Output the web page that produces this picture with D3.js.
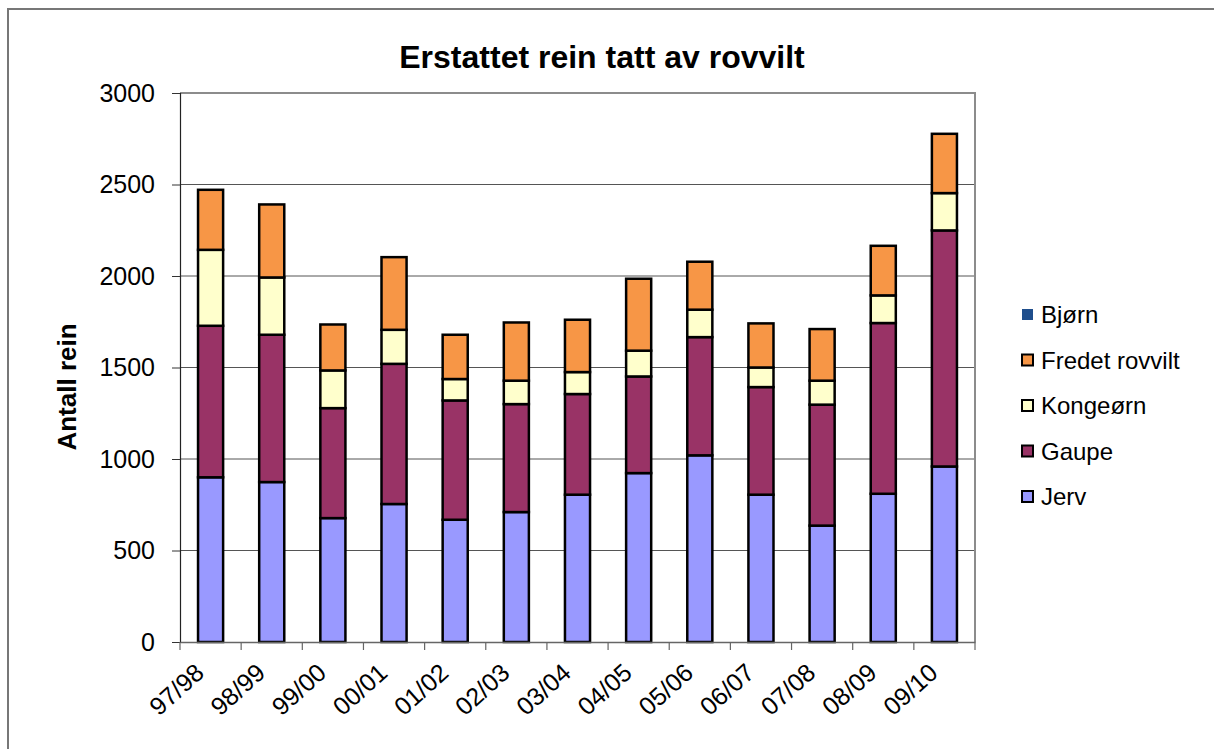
<!DOCTYPE html>
<html>
<head>
<meta charset="utf-8">
<script src="https://cdn.jsdelivr.net/npm/d3@7"></script>
<style>
  body { margin: 0; background: #fff; }
  svg { font-family: "Liberation Sans", Arial, sans-serif; }
</style>
</head>
<body>
<div id="chart"></div>
<script>
// seasons on the x axis
var seasons = ["97/98", "98/99", "99/00", "00/01", "01/02", "02/03", "03/04",
               "04/05", "05/06", "06/07", "07/08", "08/09", "09/10"];

// series values
var jerv     = [900, 874, 677, 754, 668, 710, 805, 923, 1020, 805, 636, 810, 959];
var gaupe    = [828, 805, 601, 766, 652, 590, 550, 528, 646, 588, 661, 933, 1290];
var kongeorn = [415, 313, 206, 186, 117, 128, 120, 141, 150, 107, 131, 151, 204];
var fredet   = [328, 399, 251, 397, 242, 318, 286, 393, 262, 241, 282, 271, 324];
var bjorn    = [0, 0, 0, 0, 0, 0, 0, 0, 0, 0, 0, 0, 0];

var yTicks = [0, 500, 1000, 1500, 2000, 2500, 3000];

var seriesNames = ["Jerv", "Gaupe", "Kongeørn", "Fredet rovvilt", "Bjørn"];
var seriesValues = [jerv, gaupe, kongeorn, fredet, bjorn];
var colors = ["#9999ff", "#993366", "#ffffcc", "#f79646", "#1f4e8c"];

var width = 1214, height = 749;
var plot = {left: 180, right: 975, top: 93, bottom: 642};

var svg = d3.select("#chart").append("svg")
    .attr("width", width)
    .attr("height", height);

// outer chart frame
svg.append("rect")
    .attr("x", 8).attr("y", 9)
    .attr("width", width + 20).attr("height", height + 20)
    .attr("fill", "#fff")
    .attr("stroke", "#777")
    .attr("stroke-width", 2);

// build rows for the stack
var rows = seasons.map(function(s, i) {
    var r = {season: s};
    seriesNames.forEach(function(n, k) { r[n] = seriesValues[k][i]; });
    return r;
});
var stacked = d3.stack().keys(seriesNames)(rows);

var x = d3.scaleBand().domain(seasons).range([plot.left, plot.right]).padding(0);
var y = d3.scaleLinear().domain([0, 3000]).range([plot.bottom, plot.top]);
var barW = x.bandwidth() * 0.41;

// gridlines
svg.append("g").selectAll("line")
    .data(yTicks.slice(1))
    .enter().append("line")
    .attr("x1", plot.left).attr("x2", plot.right)
    .attr("y1", function(d) { return y(d); })
    .attr("y2", function(d) { return y(d); })
    .attr("stroke", "#555")
    .attr("stroke-width", 1);

// plot border (top / right)
svg.append("path")
    .attr("d", "M" + plot.left + "," + plot.top + "H" + plot.right + "V" + plot.bottom)
    .attr("fill", "none")
    .attr("stroke", "#8c8c8c")
    .attr("stroke-width", 2);

// bars
var layers = svg.append("g").selectAll("g")
    .data(stacked)
    .enter().append("g")
    .attr("fill", function(d, i) { return colors[i]; });

layers.selectAll("rect")
    .data(function(d) { return d.filter(function(p) { return p[1] - p[0] > 0; }); })
    .enter().append("rect")
    .attr("x", function(d) { return x(d.data.season) + (x.bandwidth() - barW) / 2; })
    .attr("y", function(d) { return y(d[1]); })
    .attr("width", barW)
    .attr("height", function(d) { return y(d[0]) - y(d[1]); })
    .attr("stroke", "#000")
    .attr("stroke-width", 2.5);

// y axis
var yAxis = d3.axisLeft(y).tickValues(yTicks).tickFormat(d3.format("d"))
    .tickSize(8).tickPadding(17);
var gy = svg.append("g")
    .attr("transform", "translate(" + plot.left + ",0)")
    .call(yAxis);
gy.select(".domain").attr("stroke", "#222").attr("stroke-width", 1.2);
gy.selectAll(".tick line").attr("stroke", "#333");
gy.selectAll(".tick text")
    .attr("font-size", 25)
    .attr("fill", "#000");

// x axis: ticks between categories
var xAxis = d3.axisBottom(x).tickSize(0).tickFormat("");
var gx = svg.append("g")
    .attr("transform", "translate(0," + plot.bottom + ")")
    .call(xAxis);
gx.select(".domain").attr("stroke", "#666").attr("stroke-width", 1.5);

var bounds = seasons.map(function(s) { return x(s); }).concat([plot.right]);
svg.append("g").selectAll("line")
    .data(bounds)
    .enter().append("line")
    .attr("x1", function(d) { return d; })
    .attr("x2", function(d) { return d; })
    .attr("y1", plot.bottom)
    .attr("y2", plot.bottom + 8)
    .attr("stroke", "#666")
    .attr("stroke-width", 1.2);

svg.append("g").selectAll("text")
    .data(seasons)
    .enter().append("text")
    .text(function(d) { return d; })
    .attr("transform", function(d) {
        return "translate(" + (x(d) + x.bandwidth() / 2 - 5) + "," + (plot.bottom + 33) + ") rotate(-42)";
    })
    .attr("text-anchor", "end")
    .attr("font-size", 25)
    .attr("fill", "#000");

// title
svg.append("text")
    .text("Erstattet rein tatt av rovvilt")
    .attr("x", 602)
    .attr("y", 68)
    .attr("text-anchor", "middle")
    .attr("font-size", 32)
    .attr("font-weight", "bold");

// y axis label
svg.append("text")
    .text("Antall rein")
    .attr("transform", "translate(76,387) rotate(-90)")
    .attr("text-anchor", "middle")
    .attr("font-size", 26)
    .attr("font-weight", "bold");

// legend (reverse order)
var legendY = d3.scalePoint()
    .domain(seriesNames.slice().reverse())
    .range([315, 497]);

var legend = svg.append("g").selectAll("g")
    .data(seriesNames.slice().reverse())
    .enter().append("g")
    .attr("transform", function(d) { return "translate(1022," + legendY(d) + ")"; });

legend.append("rect")
    .attr("x", 0).attr("y", -6)
    .attr("width", 11).attr("height", 11)
    .attr("fill", function(d) { return colors[seriesNames.indexOf(d)]; })
    .attr("stroke", function(d) { return d === "Bjørn" ? "none" : "#000"; })
    .attr("stroke-width", 2);

legend.append("text")
    .text(function(d) { return d; })
    .attr("x", 19)
    .attr("dy", "0.35em")
    .attr("font-size", 24);
</script>
</body>
</html>
